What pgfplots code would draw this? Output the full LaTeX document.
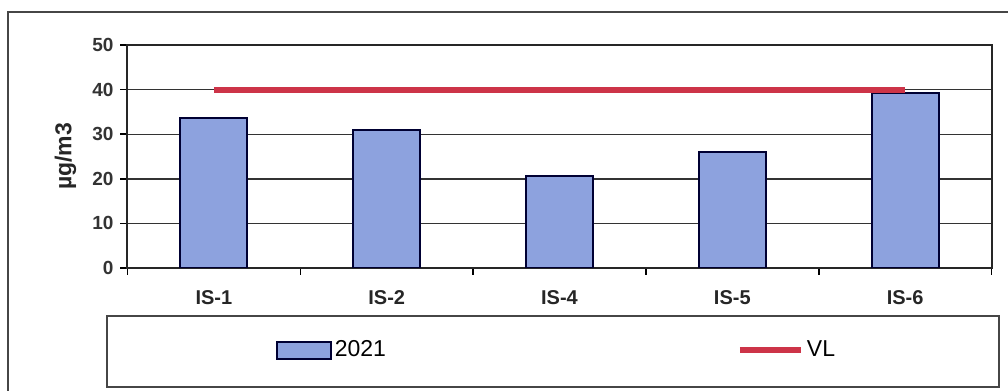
\documentclass[border=0pt]{standalone}
\usepackage{pgfplots}
\pgfplotsset{compat=1.18}
\usepackage{fontspec}
\setmainfont{Liberation Sans}
\definecolor{barblue}{RGB}{141,162,222}
\definecolor{vlred}{RGB}{205,52,72}
\definecolor{frame}{RGB}{70,70,70}
\pgfplotsset{
  barlegend/.style={legend image code/.code={\draw[#1] (0pt,-4.25pt) rectangle (27pt,4.25pt);}},
  linelegend/.style={legend image code/.code={\draw[#1] (0pt,0pt) -- (30.5pt,0pt);}},
}
\begin{document}
\begin{tikzpicture}[x=0.5pt,y=0.5pt]
\useasboundingbox (0,0) rectangle (1008,391);
\draw[line width=1pt, frame] (8,-10) -- (8,379) -- (1020,379);
\draw[line width=1.3pt, frame] (107,4) rectangle (999,75);
\begin{axis}[
  at={(63.75pt,61.5pt)}, anchor=south west,
  scale only axis, width=432pt, height=111.5pt,
  xmin=-0.5, xmax=4.5, ymin=0, ymax=50,
  xtick={0,1,2,3,4},
  xticklabels={IS-1,IS-2,IS-4,IS-5,IS-6},
  minor xtick={-0.5,0.5,1.5,2.5,3.5,4.5},
  ytick={0,10,20,30,40,50},
  tick pos=left,
  ymajorgrids, major grid style={line width=0.7pt, black!80},
  major x tick style={draw=none},
  minor x tick style={line width=0.8pt, black},
  major y tick style={line width=0.8pt, black},
  tick align=outside, major tick length=3.5pt, minor tick length=3.5pt,
  axis line style={line width=1pt, black!85},
  /pgf/number format/assume math mode=true,
  yticklabel style={font=\bfseries\fontsize{9.5}{10}\selectfont, text=black!80},
  xticklabel style={font=\bfseries\fontsize{10}{11}\selectfont, text=black!85, yshift=-4pt},
  every axis y label/.style={at={(axis description cs:-0.0718,0.5)}, rotate=90, anchor=center},
  ylabel style={font=\bfseries\fontsize{11.5}{13}\selectfont, text=black!85},
  ylabel={µg/m3},
  legend columns=2,
  legend style={at={(axis description cs:0.497,-0.368)}, anchor=center,
    draw=none, fill=none, font=\fontsize{11.5}{13}\selectfont,
    nodes={inner xsep=1.5pt},
    /tikz/every even column/.append style={column sep=174pt}},
]
\addplot[ybar, bar width=33.5pt, fill=barblue, draw=black!80!blue, line width=1pt, barlegend]
  coordinates {(0,33.6) (1,30.9) (2,20.6) (3,26.0) (4,39.2)};
\addlegendentry{2021}
\addplot[vlred, line width=3pt, linelegend]
  coordinates {(0,40) (1,40) (2,40) (3,40) (4,40)};
\addlegendentry{VL}
\end{axis}
\end{tikzpicture}
\end{document}
